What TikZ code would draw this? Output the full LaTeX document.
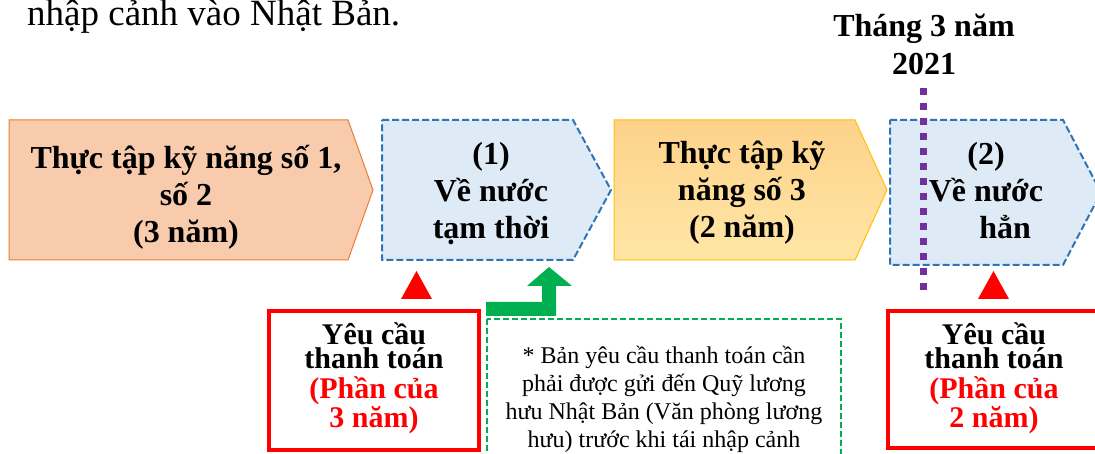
\documentclass[tikz,border=0pt]{standalone}
\usepackage{fontspec}
\setmainfont{Liberation Serif}
\definecolor{orfill}{HTML}{F8CBAD}
\definecolor{ordraw}{HTML}{ED7D31}
\definecolor{blfill}{HTML}{DEEBF7}
\definecolor{bldraw}{HTML}{2E75B6}
\definecolor{yetop}{HTML}{FDD28A}
\definecolor{yebot}{HTML}{FFE6A6}
\definecolor{yedraw}{HTML}{FFC000}
\definecolor{purp}{HTML}{7030A0}
\definecolor{grn}{HTML}{00B050}
\definecolor{redc}{HTML}{FF0000}
\begin{document}
\begin{tikzpicture}[x=1pt,y=-1pt,
  bigtext/.style={inner sep=0pt,anchor=base,align=center,font=\fontsize{32}{37}\selectfont\bfseries},
  paytext/.style={inner sep=0pt,anchor=base,align=center,font=\fontsize{30}{23.5}\selectfont\bfseries},
  notetext/.style={inner sep=0pt,anchor=base,align=center,font=\fontsize{24}{28}\selectfont},
  bluebox/.style={fill=blfill,draw=bldraw,line width=2pt,dash pattern=on 7pt off 3pt},
  redbox/.style={draw=redc,line width=4pt},
  redtri/.style={fill=redc,draw=none}]
\useasboundingbox (0,0) rectangle (1095,454);
\clip (0,0) rectangle (1095,454);
\fill[white] (0,0) rectangle (1095,454);
% top text
\node[inner sep=0pt,anchor=base west,font=\fontsize{37}{44}\selectfont] (top) at (27,26) {nhập cảnh vào Nhật Bản.};
% shapes
\draw[fill=orfill,draw=ordraw,line width=1pt] (9,120) -- (348,120) -- (373,190) -- (348,260) -- (9,260) -- cycle;
\draw[bluebox] (382,120) -- (573,120) -- (611,190) -- (573,260) -- (382,260) -- cycle;
\draw[top color=yetop,bottom color=yebot,draw=yedraw,line width=1pt] (614,120) -- (855,120) -- (887,190) -- (855,260) -- (614,260) -- cycle;
\draw[bluebox] (890,120) -- (1063,120) -- (1101,192.5) -- (1063,265) -- (890,265) -- cycle;
% shape texts (base anchor = last line baseline)
\node[bigtext] (s1) at (186,243) {Thực tập kỹ năng số 1,\\số 2\\(3 năm)};
\node[bigtext] (s2) at (491,239) {(1)\\Về nước\\tạm thời};
\node[bigtext] (s3) at (742,238) {Thực tập kỹ\\năng số 3\\(2 năm)};
\node[bigtext] (s4) at (986,239) {(2)\\Về nước\\\hspace*{1.2em}hẳn};
% date
\node[bigtext,font=\fontsize{32}{38}\selectfont\bfseries] (date) at (924,75) {Tháng 3 năm\\2021};
\coordinate (ptop) at (923.5,88);
\coordinate (pbot) at (923.5,290);
\draw[purp,line width=7pt,dash pattern=on 7pt off 8pt] (ptop) -- (pbot);
% triangles
\fill[redtri] (401,299) -- (432,299) -- (416.5,271) -- cycle;
\fill[redtri] (978,299) -- (1009,299) -- (993.5,271) -- cycle;
% green bent arrow
\fill[grn] (486,302) -- (542,302) -- (542,286) -- (527,286) -- (549,267) -- (572,286) -- (556,286) -- (556,316) -- (486,316) -- cycle;
% payment boxes
\draw[redbox] (269,311) rectangle (479,450);
\draw[redbox] (888,311) rectangle (1110,448);
\node[paytext] (p1a) at (374,368) {Yêu cầu\\thanh toán};
\node[paytext,text=redc] (p1b) at (374,427) {(Phần của\\3 năm)};
\node[paytext] (p2a) at (994,368) {Yêu cầu\\thanh toán};
\node[paytext,text=redc] (p2b) at (994,427) {(Phần của\\2 năm)};
% note box
\draw[grn,line width=2pt,dash pattern=on 6pt off 3pt] (487,319) rectangle (841,480);
\node[notetext] (note) at (664,447) {* Bản yêu cầu thanh toán cần\\phải được gửi đến Quỹ lương\\hưu Nhật Bản (Văn phòng lương\\hưu) trước khi tái nhập cảnh};
\end{tikzpicture}
\end{document}
